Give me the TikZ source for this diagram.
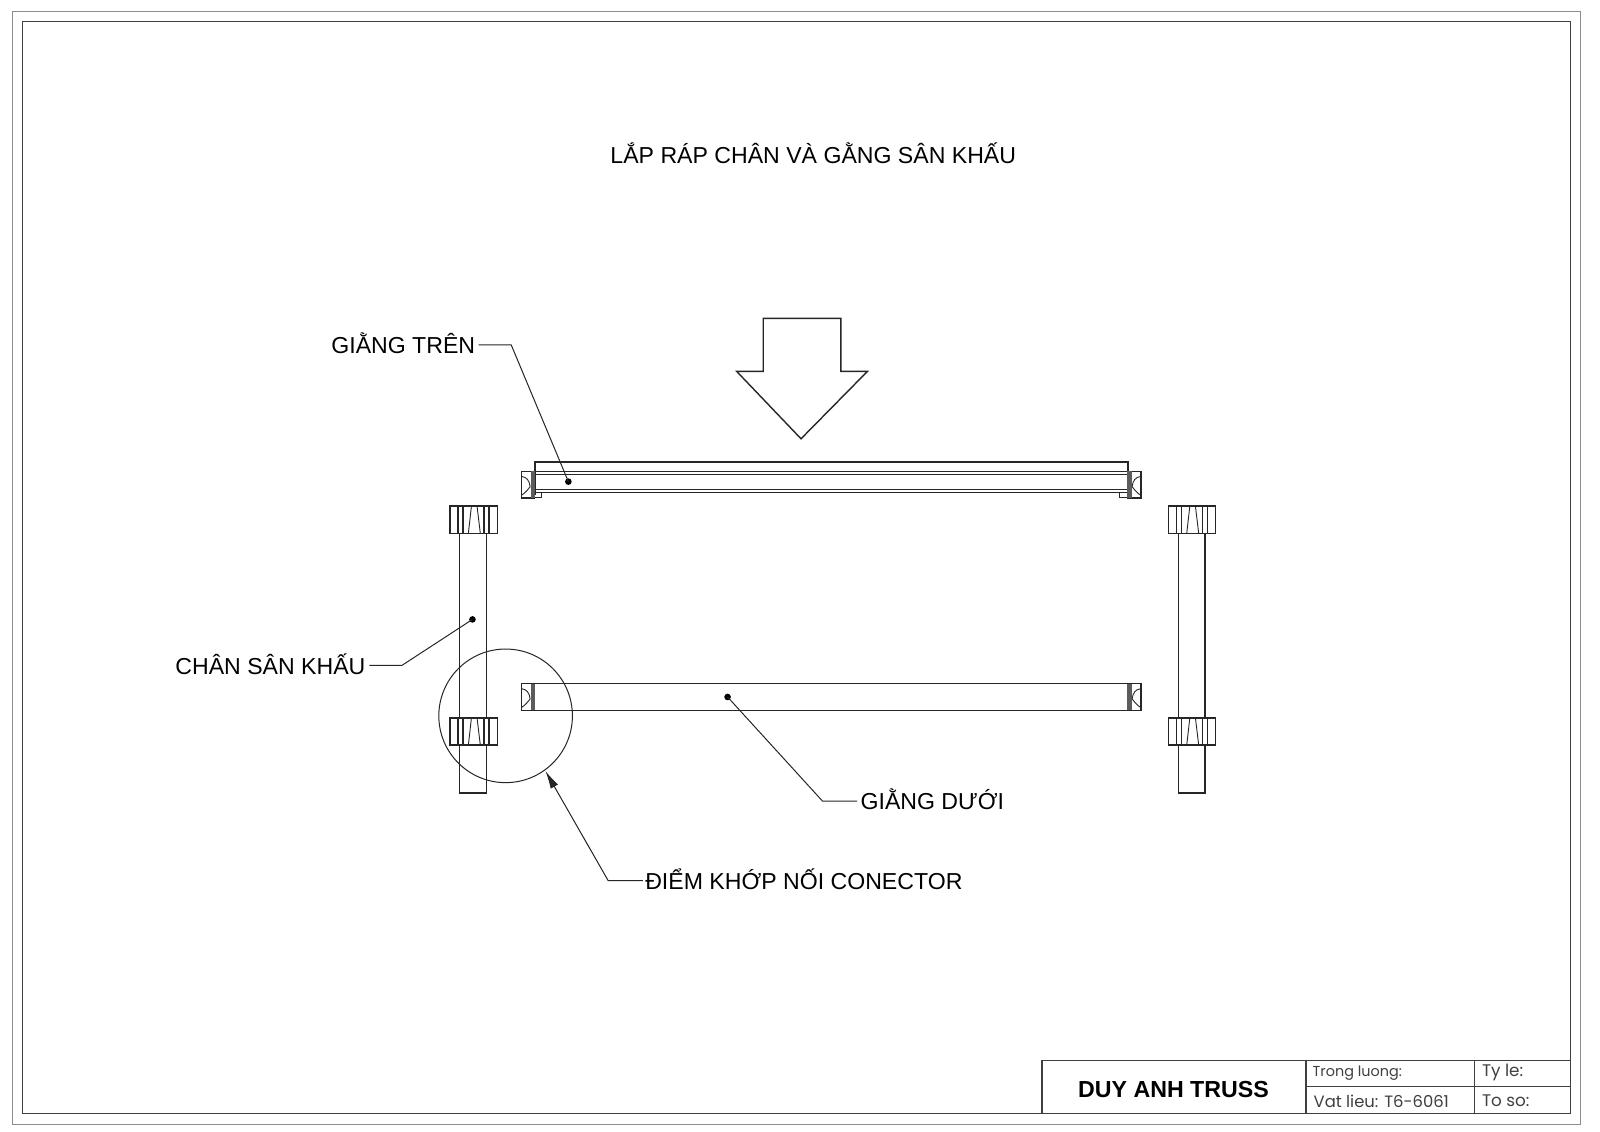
\documentclass[tikz,border=0pt]{standalone}
\usepackage{fontspec}
\usetikzlibrary{arrows.meta}
\setmainfont{Liberation Sans}
\newfontfamily\gothic{Poppins}
\definecolor{ln}{gray}{0.15}
\tikzset{
  px/.style={x=0.5102pt,y=-0.5102pt},
  part/.style={draw=ln,line width=0.7pt,fill=white},
  thin part/.style={draw=ln,line width=0.45pt},
  leader/.style={draw=ln,line width=0.5pt},
  lab/.style={font=\fontsize{11.55}{14}\selectfont,text=black,inner sep=0pt},
  blocktext/.style={anchor=west,inner sep=0pt,text=black!75},
  dotmark/.style={circle,fill=black,inner sep=0pt,minimum size=3.3pt},
}
\newcommand{\collar}[2]{%
  \begin{scope}[shift={(#1,#2)}]
    \draw[part] (0,0) rectangle (46.4,26.6);
    \draw[part,line width=0.8pt] (8,0)--(8,26.6) (12.7,0)--(12.7,26.6) (33.6,0)--(33.6,26.6) (38.2,0)--(38.2,26.6);
    \draw[thin part] (21,0)--(18,26.6) (26.5,0)--(29.7,26.6);
  \end{scope}}
\newcommand{\railend}[3]{%
  \begin{scope}[shift={(#1,#2)},xscale=#3]
    \draw[part] (0,0) rectangle (13,26);
    \draw[thin part] (0.5,5)..controls (5,5.5) and (8,9)..(8.5,15)..controls (6,18) and (4,21)..(0.5,23);
    \fill[ln!75] (9,0) rectangle (13.5,26);
  \end{scope}}
\begin{document}
\begin{tikzpicture}[px]
\useasboundingbox (0,0) rectangle (1568,1108.4);
\fill[white] (0,0) rectangle (1568,1108.4);
% frames
\draw[draw=black!45,line width=0.7pt] (12,11) rectangle (1549,1102);
\draw[draw=black!75,line width=0.7pt] (22,21) rectangle (1539,1091);
% title
\node[lab] (title) at (797,150.5) {LẮP RÁP CHÂN VÀ GẰNG SÂN KHẤU};
% big arrow
\draw[part] (748,312)--(824,312)--(824,364)--(850,364)--(785,430)--(722,364)--(748,364)--cycle;
% top rail
\draw[draw=ln,line width=1pt] (524,485)--(524,453)--(1105,453)--(1105,485);
\draw[draw=ln,line width=0.6pt] (524,462)--(1105,462) (524,465)--(1105,465) (524,480)--(1105,480) (524,483)--(1105,483);
\draw[thin part] (524,483)--(531,483)--(531,487)--(524,487);
\draw[thin part] (1105,483)--(1097,483)--(1097,487)--(1105,487);
\railend{511}{462}{1}
\railend{1118}{462}{-1}
% bottom rail
\draw[part] (524,670) rectangle (1105,696);
\railend{511}{670}{1}
\railend{1118}{670}{-1}
% legs
\draw[part,fill=none] (450.5,522)--(450.5,777)--(477,777)--(477,522);
\draw[part,fill=none] (1155,522)--(1155,777)--(1181,777)--(1181,522);
\collar{441}{496}
\collar{441}{703.5}
\collar{1145}{496}
\collar{1145}{703.5}
% circle
\node[circle,draw=ln,line width=0.5pt,minimum size=66.8pt,inner sep=0pt] (detail) at (495.5,701.5) {};
% labels
\node[lab,anchor=east] (lt) at (466,336.5) {GIẰNG TRÊN};
\node[lab,anchor=east] (lc) at (358.5,650.5) {CHÂN SÂN KHẤU};
\node[lab,anchor=west] (ld) at (843,783.5) {GIẰNG DƯỚI};
\node[lab,anchor=west] (lk) at (632,861.5) {ĐIỂM KHỚP NỐI CONECTOR};
\node[dotmark] (d1) at (557,472) {};
\node[dotmark] (d2) at (463,607) {};
\node[dotmark] (d3) at (713,683) {};
\coordinate (tip) at (534.5,755.5);
\coordinate (lta) at (469,338);
\coordinate (lca) at (362,652);
\coordinate (lda) at (840,785);
\coordinate (lka) at (630,863);
\draw[leader] (lta)--(501,338)--(d1.center);
\draw[leader] (lca)--(394,652)--(d2.center);
\draw[leader] (lda)--(806,785)--(d3.center);
\draw[leader,-{Latex[length=9pt,width=4.2pt]}] (lka)--(596,863)--(tip);
% title block
\draw[draw=black!75,line width=0.7pt] (1021,1091)--(1021,1039)--(1539,1039);
\draw[draw=black!75,line width=0.7pt] (1280,1039)--(1280,1091) (1445,1039)--(1445,1091) (1280,1065)--(1539,1065);
\node[font=\bfseries\fontsize{11.6}{14}\selectfont,inner sep=0pt] (brand) at (1150,1068) {DUY ANH TRUSS};
\node[blocktext,font=\gothic\fontsize{7.2}{10}\selectfont] (t1) at (1286,1052) {Trong luong:};
\node[blocktext,font=\gothic\fontsize{8.2}{12}\selectfont] (t2) at (1287,1079) {Vat lieu: T6-6061};
\node[blocktext,font=\gothic\fontsize{8.4}{12}\selectfont] (t3) at (1452,1051) {Ty le:};
\node[blocktext,font=\gothic\fontsize{8.4}{12}\selectfont] (t4) at (1452,1079) {To so:};
\end{tikzpicture}
\end{document}
